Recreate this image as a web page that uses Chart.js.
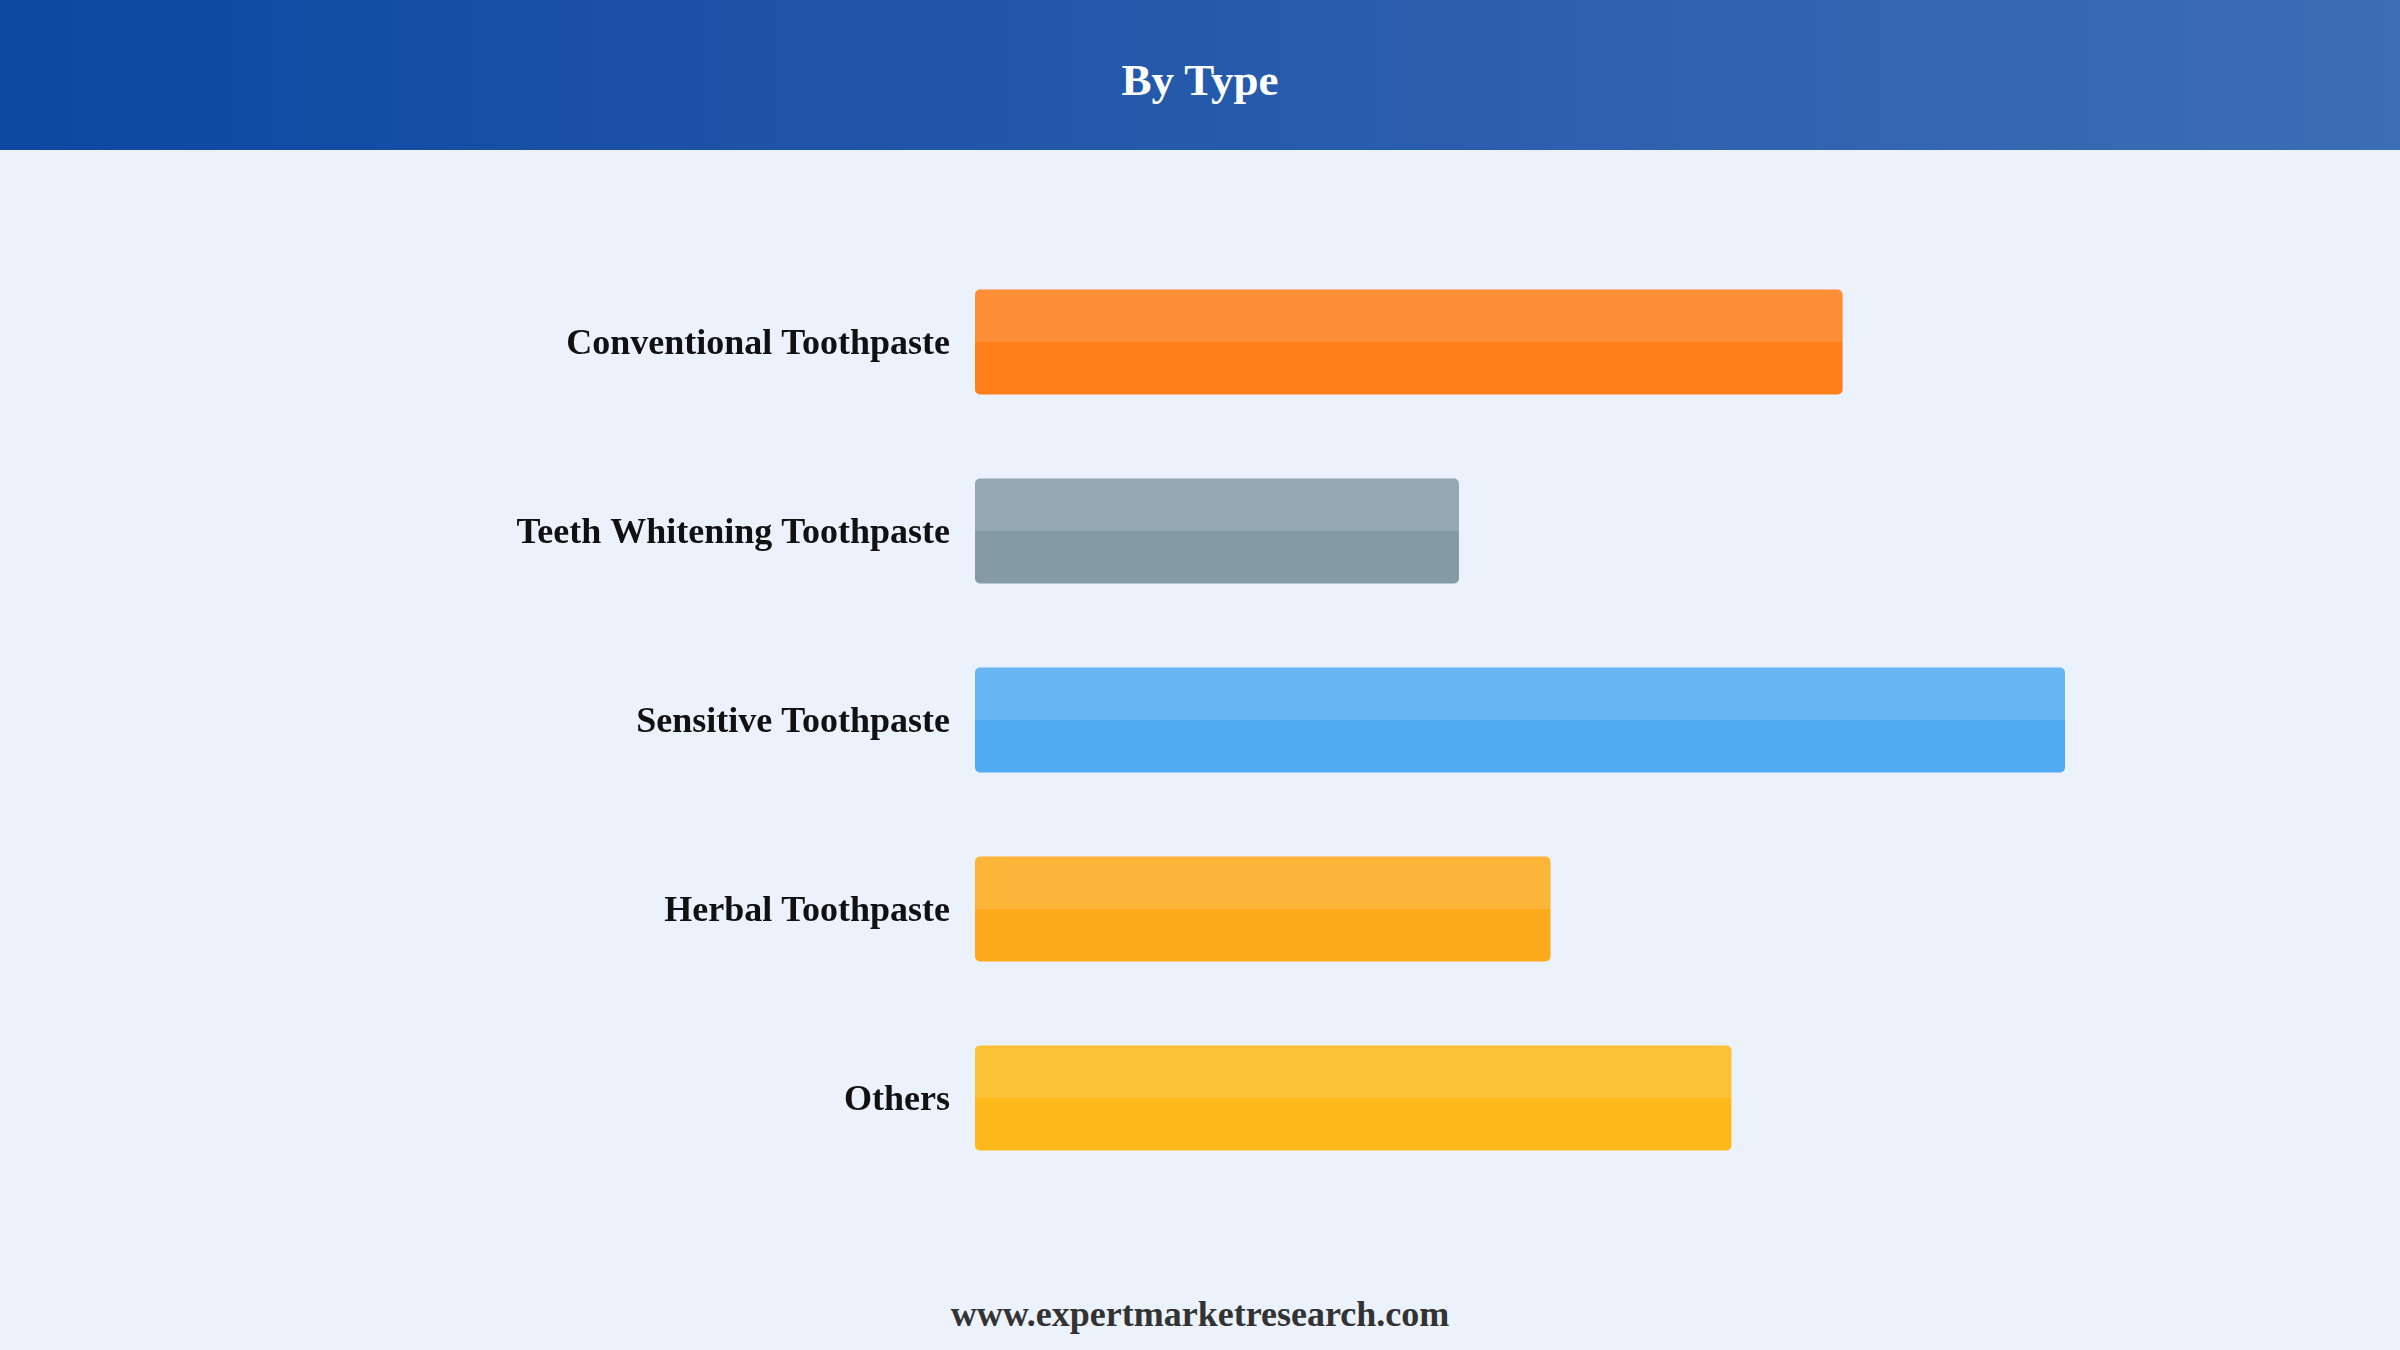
<!DOCTYPE html>
<html>
<head>
<meta charset="utf-8">
<title>By Type</title>
<script src="https://cdn.jsdelivr.net/npm/chart.js@4/dist/chart.umd.min.js"></script>
<style>
    html, body { margin: 0; padding: 0; }
    body {
        width: 2400px; height: 1350px; overflow: hidden;
        background: #EBF2FB; position: relative;
        font-family: "Liberation Serif", "Times New Roman", serif;
    }
    #cabecera {
        position: absolute; left: 0; top: 0; width: 2400px; height: 150px;
        background: linear-gradient(to right, #0D47A1, #3D6DB5);
    }
    #titulo {
        position: absolute; left: 0; top: 0; width: 2400px; height: 150px;
        line-height: 161px; text-align: center;
        color: #fff; font-weight: bold; font-size: 45px;
    }
    #zonaGrafico { position: absolute; left: 0; top: 150px; width: 2400px; height: 1100px; }
    #pie {
        position: absolute; left: 0; top: 1289px; width: 2400px; height: 50px;
        line-height: 50px; text-align: center;
        color: #333; font-weight: bold; font-size: 36px;
    }
</style>
</head>
<body>
<div id="cabecera"><div id="titulo">By Type</div></div>
<div id="zonaGrafico"><canvas id="tipoChart"></canvas></div>
<div id="pie">www.expertmarketresearch.com</div>

<script>
// Datos (sin eje visible, valores relativos)
const categorias = ['Conventional Toothpaste', 'Teeth Whitening Toothpaste', 'Sensitive Toothpaste', 'Herbal Toothpaste', 'Others'];
const valores = [39.8, 22.2, 50.0, 26.4, 34.7];
const colores = ['#FF7F1A', '#849BA5', '#52ACF3', '#FCA91C', '#FDB81B'];

// Franja clara en la mitad superior de cada barra
const brilloBarras = {
    id: 'brilloBarras',
    afterDatasetsDraw(chart) {
        const ctx = chart.ctx;
        chart.getDatasetMeta(0).data.forEach(bar => {
            const { x, y, base, height } = bar.getProps(['x', 'y', 'base', 'height'], true);
            ctx.save();
            ctx.fillStyle = 'rgba(255,255,255,0.13)';
            ctx.beginPath();
            ctx.roundRect(base, y - height / 2, x - base, height / 2, [5, 5, 0, 0]);
            ctx.fill();
            ctx.restore();
        });
    }
};

document.addEventListener('DOMContentLoaded', () => {
    const ctxTipo = document.getElementById('tipoChart').getContext('2d');
    new Chart(ctxTipo, {
        type: 'bar',
        data: {
            labels: categorias,
            datasets: [{
                data: valores,
                backgroundColor: colores,
                borderRadius: 5,
                borderSkipped: false,
                barPercentage: 0.556,
                categoryPercentage: 1
            }]
        },
        options: {
            indexAxis: 'y',
            responsive: true,
            maintainAspectRatio: false,
            animation: false,
            layout: { padding: { top: 97.5, bottom: 57.5, left: 0, right: 117 } },
            plugins: { legend: { display: false }, tooltip: { enabled: false } },
            scales: {
                x: { display: false, min: 0, max: 60 },
                y: {
                    grid: { display: false, drawTicks: false },
                    border: { display: false },
                    afterFit: s => { s.width = 975; },
                    ticks: {
                        padding: 25,
                        labelOffset: 3,
                        color: '#111',
                        font: { family: '"Liberation Serif", "Times New Roman", serif', size: 36, weight: 'bold' }
                    }
                }
            }
        },
        plugins: [brilloBarras]
    });
});
</script>
</body>
</html>
